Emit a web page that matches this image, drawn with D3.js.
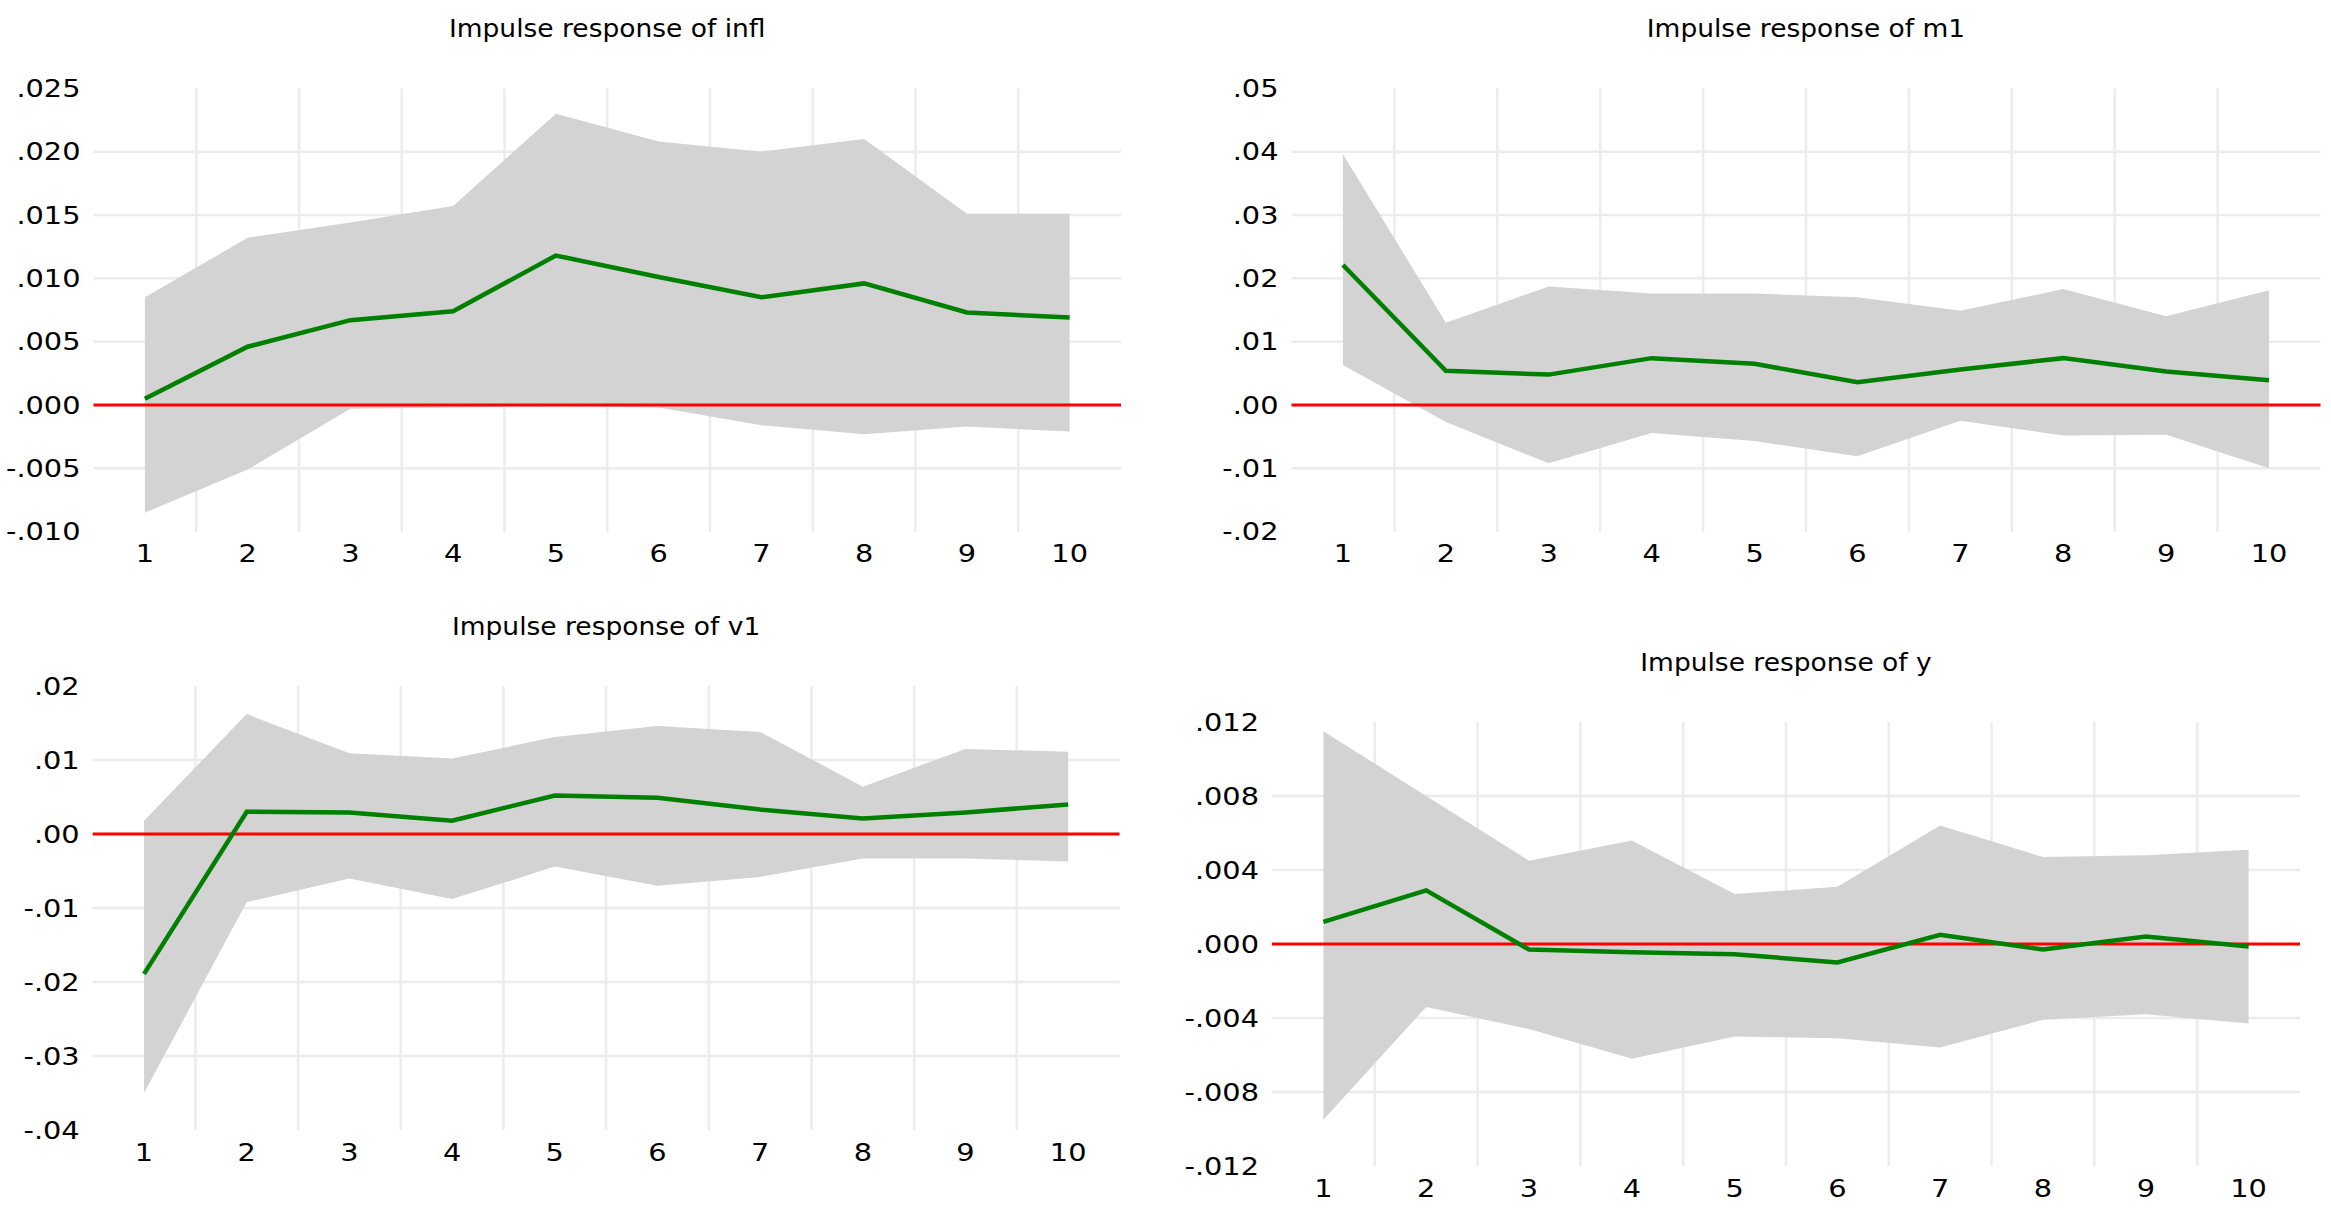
<!DOCTYPE html>
<html>
<head>
<meta charset="utf-8">
<script src="https://cdn.jsdelivr.net/npm/d3@7"></script>
<style>
  html, body { margin: 0; padding: 0; background: #ffffff; }
  svg { display: block; }
</style>
</head>
<body>
<svg id="chart" width="2331" height="1215"></svg>
<script>
// ---------------- DATA ----------------
const categories = [1, 2, 3, 4, 5, 6, 7, 8, 9, 10];

const titles = ["Impulse response of infl", "Impulse response of m1", "Impulse response of v1", "Impulse response of y"];

// infl
const inflResponse = [0.0005, 0.0046, 0.0067, 0.0074, 0.0118, 0.0101, 0.0085, 0.0096, 0.0073, 0.0069];
const inflUpper    = [0.0085, 0.0132, 0.0144, 0.0157, 0.0230, 0.0208, 0.0200, 0.0210, 0.0151, 0.0151];
const inflLower    = [-0.0085, -0.0051, -0.0003, -0.0002, -0.0001, -0.0002, -0.0016, -0.0023, -0.0017, -0.0021];
const inflTicks    = [-0.010, -0.005, 0.000, 0.005, 0.010, 0.015, 0.020, 0.025];

// m1
const m1Response = [0.0221, 0.0054, 0.0048, 0.0074, 0.0065, 0.0036, 0.0056, 0.0074, 0.0053, 0.0039];
const m1Upper    = [0.0396, 0.0130, 0.0187, 0.0176, 0.0176, 0.0170, 0.0149, 0.0183, 0.0140, 0.0181];
const m1Lower    = [0.0063, -0.0027, -0.0092, -0.0044, -0.0057, -0.0081, -0.0025, -0.0048, -0.0047, -0.0100];
const m1Ticks    = [-0.02, -0.01, 0.00, 0.01, 0.02, 0.03, 0.04, 0.05];

// v1
const v1Response = [-0.0189, 0.0030, 0.0029, 0.0018, 0.0052, 0.0049, 0.0033, 0.0021, 0.0029, 0.0040];
const v1Upper    = [0.0018, 0.0162, 0.0109, 0.0102, 0.0131, 0.0146, 0.0138, 0.0064, 0.0115, 0.0111];
const v1Lower    = [-0.0350, -0.0092, -0.0060, -0.0088, -0.0044, -0.0070, -0.0058, -0.0033, -0.0033, -0.0037];
const v1Ticks    = [-0.04, -0.03, -0.02, -0.01, 0.00, 0.01, 0.02];

// y
const yResponse = [0.0012, 0.0029, -0.0003, -0.00045, -0.00055, -0.0010, 0.0005, -0.0003, 0.0004, -0.00013];
const yUpper    = [0.0115, 0.0080, 0.0045, 0.0056, 0.0027, 0.0031, 0.0064, 0.0047, 0.0048, 0.0051];
const yLower    = [-0.0095, -0.0034, -0.0046, -0.0062, -0.0050, -0.0051, -0.0056, -0.0041, -0.0038, -0.0043];
const yTicks    = [-0.012, -0.008, -0.004, 0.000, 0.004, 0.008, 0.012];

// ---------------- LAYOUT ----------------
const panels = [
  { title: titles[0], resp: inflResponse, up: inflUpper, lo: inflLower, ticks: inflTicks, dec: 3,
    left: 93.5, right: 1121, top: 88.3, bottom: 531.7 },
  { title: titles[1], resp: m1Response, up: m1Upper, lo: m1Lower, ticks: m1Ticks, dec: 2,
    left: 1291.5, right: 2320.5, top: 88.3, bottom: 531.7 },
  { title: titles[2], resp: v1Response, up: v1Upper, lo: v1Lower, ticks: v1Ticks, dec: 2,
    left: 92.7, right: 1119.5, top: 686, bottom: 1130 },
  { title: titles[3], resp: yResponse, up: yUpper, lo: yLower, ticks: yTicks, dec: 3,
    left: 1272, right: 2300, top: 722, bottom: 1166 }
];

const FONT = "'DejaVu Sans', Verdana, sans-serif";
const TICK_FS = 24;
const TITLE_FS = 25;
const SX = 1.2;       // horizontal stretch of the reference tick text
const TITLE_SX = 1.06;
const GRID = "#ececec";
const BAND = "#d3d3d3";

const svg = d3.select("#chart");
svg.append("rect").attr("width", 2331).attr("height", 1215).attr("fill", "#fff");

function fmt(v, dec) {
  let s = d3.format("." + dec + "f")(Math.abs(v));
  s = s.replace(/^0\./, ".");
  return (v < 0 ? "-" : "") + s;
}

function addText(g, x, y, str, anchor, fs, sx) {
  g.append("text")
    .attr("transform", `translate(${x},${y}) scale(${sx},1)`)
    .attr("text-anchor", anchor)
    .attr("font-family", FONT)
    .attr("font-size", fs)
    .attr("fill", "#000")
    .text(str);
}

panels.forEach(p => {
  const g = svg.append("g");
  const x = d3.scaleBand().domain(categories).range([p.left, p.right]).paddingInner(0).paddingOuter(0);
  const cx = d => x(d) + x.bandwidth() / 2;
  const y = d3.scaleLinear().domain([p.ticks[0], p.ticks[p.ticks.length - 1]]).range([p.bottom, p.top]);

  // horizontal grid (interior ticks only)
  const inner = p.ticks.slice(1, -1);
  g.selectAll("line.hg").data(inner).join("line")
    .attr("x1", p.left).attr("x2", p.right)
    .attr("y1", d => y(d)).attr("y2", d => y(d))
    .attr("stroke", GRID).attr("stroke-width", 2.5);

  // vertical grid at band boundaries
  g.selectAll("line.vg").data(categories.slice(1)).join("line")
    .attr("x1", d => x(d)).attr("x2", d => x(d))
    .attr("y1", p.top).attr("y2", p.bottom)
    .attr("stroke", GRID).attr("stroke-width", 2.5);

  // band
  const idx = d3.range(categories.length);
  const area = d3.area()
    .x(i => cx(categories[i]))
    .y0(i => y(p.lo[i]))
    .y1(i => y(p.up[i]));
  g.append("path").datum(idx).attr("d", area).attr("fill", BAND);

  // zero line
  g.append("line")
    .attr("x1", p.left).attr("x2", p.right)
    .attr("y1", y(0)).attr("y2", y(0))
    .attr("stroke", "#ff0000").attr("stroke-width", 3);

  // response line
  const line = d3.line().x(i => cx(categories[i])).y(i => y(p.resp[i]));
  g.append("path").datum(idx).attr("d", line)
    .attr("fill", "none").attr("stroke", "#008000").attr("stroke-width", 4.5)
    .attr("stroke-linejoin", "miter");

  // y tick labels
  p.ticks.forEach(t => {
    addText(g, p.left - 13, y(t) + 0.36 * TICK_FS, fmt(t, p.dec), "end", TICK_FS, SX);
  });

  // x tick labels
  categories.forEach(c => {
    addText(g, cx(c), p.bottom + 22 + 0.36 * TICK_FS, String(c), "middle", TICK_FS, SX);
  });

  // title
  addText(g, (p.left + p.right) / 2, p.top - 60 + 0.36 * TITLE_FS, p.title, "middle", TITLE_FS, TITLE_SX);
});
</script>
</body>
</html>
